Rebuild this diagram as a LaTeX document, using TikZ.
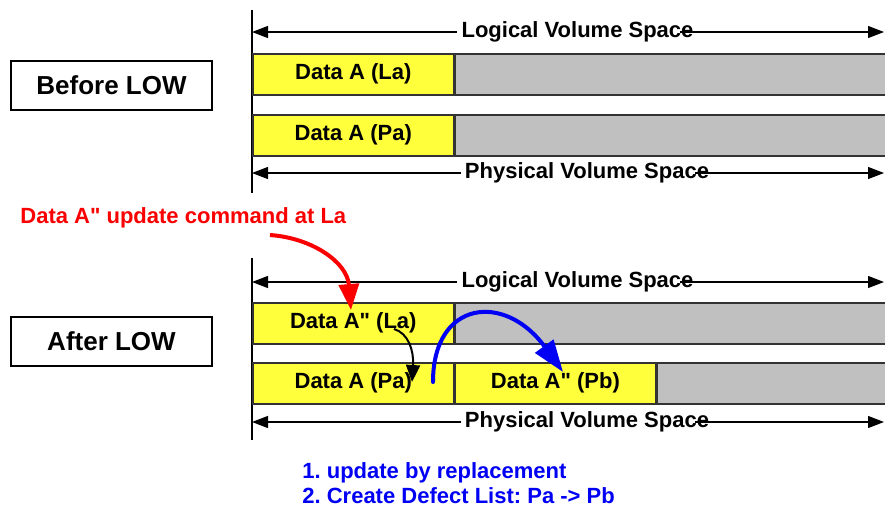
\documentclass[tikz,border=0pt]{standalone}
\usepackage{fontspec}
\setmainfont{Liberation Sans}
\usetikzlibrary{arrows.meta,positioning}
\definecolor{segyellow}{RGB}{255,255,60}
\definecolor{seggray}{RGB}{192,192,192}
\definecolor{cmdred}{RGB}{250,0,0}
\definecolor{noteblue}{RGB}{0,0,245}
\newcommand{\dq}{\textquotedbl}
\frenchspacing

\begin{document}
\begin{tikzpicture}[
    x=0.5pt, y=-0.5pt,
    seg/.style={draw=black!80, line width=0.8pt, inner sep=0pt, anchor=north west,
      minimum height=20.5pt, font=\bfseries\fontsize{11}{13}\selectfont},
    yseg/.style={seg, fill=segyellow, minimum width=100.5pt},
    gseg/.style={seg, fill=seggray},
    phase/.style={draw, line width=0.8pt, minimum width=100.5pt, minimum height=24.5pt,
      font=\bfseries\fontsize{13}{15}\selectfont},
    span/.style={fill=white, inner sep=2pt, font=\bfseries\fontsize{11}{13}\selectfont},
    dim/.style={-{Triangle[length=8pt, width=6pt]}, line width=0.6pt},
    fat/.style={line width=2pt}
  ]
    \useasboundingbox (0,0) rectangle (885,505);

    % before
    \node[phase] (before) at (111.5,85.5) {Before LOW};
    \draw[line width=0.6pt] (252,10) -- (252,193);
    \node[span] (lvs1) at (577.5,32) {Logical Volume Space};
    \coordinate (lvs1l) at (252,32);
    \coordinate (lvs1r) at (884,32);
    \draw[dim] (lvs1.west) -- (lvs1l);
    \draw[dim] ([xshift=-9pt]lvs1.east) -- (lvs1r);
    \node[yseg] (la1) at (252,53) {Data A (La)};
    \node[gseg, minimum width=216pt] (lg1) at (la1.north east) {};
    \node[yseg] (pa1) at (252,114) {Data A (Pa)};
    \node[gseg, minimum width=216pt] (pg1) at (pa1.north east) {};
    \node[span] (pvs1) at (587,173) {Physical Volume Space};
    \coordinate (pvs1l) at (252,173);
    \coordinate (pvs1r) at (884,173);
    \draw[dim] (pvs1.west) -- (pvs1l);
    \draw[dim] ([xshift=-9pt]pvs1.east) -- (pvs1r);

    \node[anchor=west, text=cmdred, inner sep=0pt, font=\bfseries\fontsize{11}{13}\selectfont]
      (cmd) at (20,218) {Data A\dq{} update command at La};

    % after
    \node[phase] (after) at (111.5,341.5) {After LOW};
    \draw[line width=0.6pt] (252,258) -- (252,440);
    \node[span] (lvs2) at (577.5,282) {Logical Volume Space};
    \coordinate (lvs2l) at (252,282);
    \coordinate (lvs2r) at (884,282);
    \draw[dim] (lvs2.west) -- (lvs2l);
    \draw[dim] ([xshift=-9pt]lvs2.east) -- (lvs2r);
    \node[yseg] (la2) at (252,302) {Data A\dq{} (La)};
    \node[gseg, minimum width=216pt] (lg2) at (la2.north east) {};
    \node[yseg] (pa2) at (252,362) {Data A (Pa)};
    \node[yseg, minimum width=100pt] (pb2) at (pa2.north east) {Data A\dq{} (Pb)};
    \node[gseg, minimum width=116pt] (pg2) at (pb2.north east) {};
    \node[span] (pvs2) at (587,422) {Physical Volume Space};
    \coordinate (pvs2l) at (252,422);
    \coordinate (pvs2r) at (884,422);
    \draw[dim] (pvs2.west) -- (pvs2l);
    \draw[dim] ([xshift=-9pt]pvs2.east) -- (pvs2r);

    \node[anchor=north west, text=noteblue, align=left, inner sep=0pt,
      font=\bfseries\fontsize{11}{12.5}\selectfont] (note) at (302,462)
      {1. update by replacement\\2. Create Defect List: Pa -> Pb};

    % update arrows
    \coordinate (rs) at (270,235);
    \coordinate (re) at (351,310);
    \draw[fat, cmdred, -{Triangle[length=13pt, width=10pt]}]
      (rs) .. controls (312,238) and (347,262) .. (re);
    \coordinate (ks) at (394,329);
    \coordinate (ke) at (412,382);
    \draw[line width=1pt, -{Triangle[length=8.5pt, width=7pt]}]
      (ks) .. controls (408,333) and (414,350) .. (ke);
    \coordinate (bs) at (433,382);
    \coordinate (be) at (563,372);
    \draw[fat, noteblue, line cap=round, -{Triangle[length=16pt, width=11pt]}]
      (bs) .. controls (433,300) and (505,292) .. (be);
  \end{tikzpicture}
\end{document}
